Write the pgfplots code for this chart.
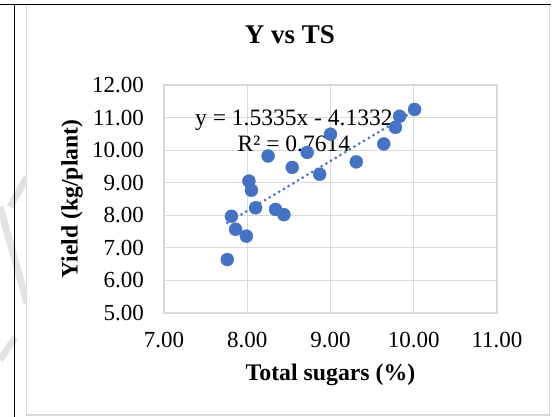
\documentclass[border=0pt]{standalone}
\usepackage{pgfplots}
\pgfplotsset{compat=1.18}
\usepackage{fontspec}
\setmainfont{Liberation Serif}
\definecolor{exblue}{HTML}{4472C4}
\definecolor{exgrid}{HTML}{D9D9D9}
\begin{document}
\begin{tikzpicture}
\path[use as bounding box] (0,0) rectangle (552bp,417bp);
% watermark stripes
\begin{scope}
\clip (0,0) rectangle (26bp,417bp);
\draw[gray!22, line width=7bp] (27bp,240bp) -- (10bp,210bp);
\draw[gray!22, line width=7bp] (0bp,210bp) -- (27bp,114bp);
\draw[gray!22, line width=7bp] (15bp,79bp) -- (0bp,57bp);
\end{scope}
% frames
\draw[exgrid, line width=1.2bp] (26.7bp,2bp) rectangle (549.5bp,412.3bp);
\draw[black, line width=1.5bp] (0,412.3bp) -- (551bp,412.3bp);
\draw[black, line width=1.2bp] (14.5bp,0) -- (14.5bp,412.3bp);
\begin{axis}[
  at={(164bp,104bp)}, anchor=south west,
  scale only axis, width=333bp, height=228bp,
  xmin=7, xmax=11, ymin=5, ymax=12,
  xtick={7,8,9,10,11}, ytick={5,6,7,8,9,10,11,12},
  grid=major, grid style={exgrid, line width=1.2bp},
  axis line style={exgrid, line width=1.5bp},
  major tick length=0pt,
  /pgf/number format/.cd, fixed, fixed zerofill, precision=2, assume math mode=true,
  /pgfplots/.cd,
  ticklabel style={font=\fontsize{23bp}{27bp}\selectfont, text=black},
  yticklabel style={anchor=east, inner sep=0pt, xshift=-20bp},
  xticklabel style={anchor=north, inner sep=0pt, yshift=-19bp},
  title={\textbf{Y vs TS}},
  title style={font=\fontsize{27bp}{32bp}\selectfont, at={(axis description cs:0.378,1.193)}, anchor=center, inner sep=0pt},
  xlabel={\textbf{Total sugars (\%)}},
  ylabel={\textbf{Yield (kg/plant)}},
  xlabel style={font=\fontsize{23.8bp}{28bp}\selectfont, at={(axis description cs:0.5,-0.272)}, anchor=center, inner sep=0pt},
  ylabel style={font=\fontsize{23.6bp}{28bp}\selectfont, at={(axis description cs:-0.276,0.5)}, rotate=0, anchor=center, inner sep=0pt},
  clip=false,
]
\addplot[exblue, line width=3bp, line cap=round, dash pattern=on 0bp off 5.5bp] coordinates {(7.76,7.7668) (10.01,11.2171)};
\addplot[only marks, mark=*, mark size=6.5bp, mark options={fill=exblue, draw=exblue}] coordinates {
(7.76,6.64) (7.81,7.97) (7.86,7.57) (7.99,7.36) (8.02,9.05) (8.05,8.77) (8.10,8.23)
(8.25,9.82) (8.34,8.18) (8.44,8.02) (8.54,9.47) (8.72,9.93) (8.87,9.26) (9.00,10.49)
(9.31,9.64) (9.64,10.19) (9.78,10.70) (9.83,11.04) (10.01,11.25)};
\node[anchor=base, inner sep=0pt, font=\fontsize{23.5bp}{28bp}\selectfont] at (axis cs:8.56,10.77) {y = 1.5335x - 4.1332};
\node[anchor=base, inner sep=0pt, font=\fontsize{23.5bp}{28bp}\selectfont] at (axis cs:8.56,9.95) {R² = 0.7614};
\end{axis}
\end{tikzpicture}
\end{document}
